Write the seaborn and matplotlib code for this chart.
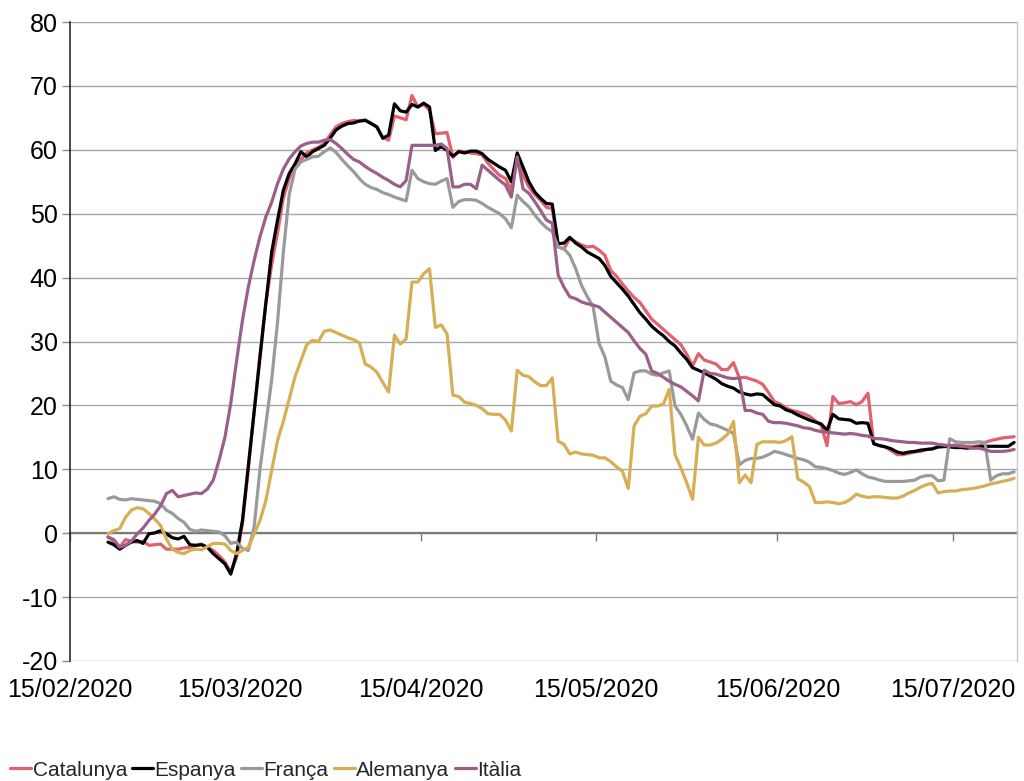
import numpy as np
import pandas as pd
import matplotlib
matplotlib.use("Agg")
import matplotlib.pyplot as plt
import matplotlib.dates as mdates
from matplotlib import font_manager as fm
from matplotlib.lines import Line2D
import seaborn as sns

# ---------------- data (daily, 21/02/2020 .. 25/07/2020) ----------------
start_date = "2020-02-21"
end_date = "2020-07-25"

catalunya = [
    -0.6, -1.25, -2.2, -1.0, -1.25, -1.4, -1.25, -1.9, -1.8, -1.7,
    -2.5, -2.5, -2.5, -2.3, -2.2, -1.9, -1.7, -2.2, -2.7, -3.5,
    -4.5, -6.1, -3.8, 1.5, 10, 19, 28, 36, 42, 47,
    52.5, 55.5, 57.5, 58.5, 59.5, 60, 60.4, 61, 62.3, 63.6,
    64.1, 64.4, 64.6, 64.5, 64.7, 64.2, 63.5, 62, 61.5, 65.3,
    65, 64.7, 68.5, 66.7, 67.1, 66.2, 62.5, 62.6, 62.7, 58.8,
    59.8, 59.7, 59.5, 59.4, 59.2, 57.9, 56.9, 56, 55.5, 53.7,
    58.9, 56, 54.2, 53, 52.1, 51, 50.8, 44.8, 44.5, 46.1,
    45.6, 45.1, 44.8, 44.9, 44.3, 43.5, 41.1, 40.2, 39, 37.9,
    36.9, 36.1, 34.8, 33.5, 32.7, 31.9, 31.1, 30.3, 29.5, 28,
    26.2, 28.1, 27.1, 26.8, 26.5, 25.6, 25.6, 26.7, 24.3, 24.4,
    24.1, 23.8, 23.3, 22, 20.6, 20.2, 19.6, 19.2, 19, 18.7,
    18.3, 17.6, 16.9, 13.7, 21.4, 20.3, 20.4, 20.6, 20.1, 20.6,
    21.9, 14, 13.7, 13.5, 12.9, 12.3, 12.3, 12.5, 12.7, 12.8,
    13.1, 13.2, 13.5, 13.5, 13.7, 13.8, 13.7, 13.6, 13.6, 13.7,
    14.2, 14.5, 14.7, 14.9, 15, 15.1,
]

espanya = [
    -1.4, -1.8, -2.5, -1.9, -1.4, -1.15, -1.6, -0.1, 0.05, 0.4,
    -0.1, -0.7, -0.9, -0.5, -1.8, -1.9, -1.8, -2.2, -3.2, -4.0,
    -4.8, -6.4, -3.2, 2, 10.5, 19, 27.5, 36, 44, 49,
    53.7, 56.3, 57.8, 59.7, 58.9, 59.7, 60.2, 60.7, 61.8, 63.1,
    63.7, 64.1, 64.2, 64.5, 64.6, 64.1, 63.6, 61.8, 62.3, 67.2,
    66.1, 65.9, 67.1, 66.7, 67.3, 66.7, 59.9, 60.5, 59.9, 59,
    59.7, 59.5, 59.8, 59.8, 59.4, 58.5, 57.9, 57.3, 56.8, 55,
    59.5, 57.3, 55, 53.4, 52.4, 51.6, 51.5, 45.3, 45.4, 46.3,
    45.4, 44.8, 44, 43.5, 43, 41.9, 40.2, 39.2, 38.2, 37.1,
    35.8, 34.5, 33.5, 32.4, 31.6, 30.9, 30, 29.3, 28.2, 27.2,
    25.9, 25.5, 25.1, 24.6, 24.1, 23.4, 23, 22.7, 22.1, 21.8,
    21.6, 21.8, 21.7, 20.9, 20.1, 19.9, 19.3, 19, 18.5, 18.1,
    17.7, 17.4, 17.1, 16.1, 18.6, 17.9, 17.8, 17.7, 17.2, 17.3,
    17.2, 14, 13.7, 13.5, 13.2, 12.7, 12.5, 12.7, 12.8, 13,
    13.1, 13.2, 13.5, 13.6, 13.5, 13.4, 13.4, 13.3, 13.4, 13.5,
    13.6, 13.6, 13.6, 13.6, 13.6, 14.2,
]

franca = [
    5.4, 5.7, 5.3, 5.2, 5.4, 5.3, 5.2, 5.1, 5.0, 4.6,
    3.6, 3.1, 2.3, 1.7, 0.6, 0.3, 0.5, 0.4, 0.3, 0.2,
    -0.4, -1.6, -1.4, -2.4, -2.7, 1, 10, 17, 24, 33,
    44, 53, 57, 58.1, 58.5, 58.9, 59, 59.7, 60.3, 59.6,
    58.5, 57.5, 56.6, 55.5, 54.6, 54.1, 53.8, 53.3, 53, 52.6,
    52.3, 52, 56.8, 55.5, 55, 54.7, 54.6, 55.1, 55.5, 51,
    51.9, 52.2, 52.2, 52.1, 51.6, 51, 50.5, 50, 49.2, 47.8,
    52.9, 51.9, 51.1, 49.8, 48.7, 47.8, 47.2, 44.8, 44.5, 43.5,
    41.4, 38.8, 37, 35.4, 29.7, 27.6, 23.8, 23.2, 22.8, 20.9,
    25.1, 25.4, 25.4, 24.9, 24.7, 25.1, 25.4, 19.9, 18.6, 16.8,
    14.7, 18.8, 17.8, 17.1, 16.9, 16.5, 16.1, 15.6, 10.7, 11.4,
    11.7, 11.7, 11.9, 12.3, 12.8, 12.6, 12.3, 12, 11.7, 11.5,
    11.1, 10.4, 10.3, 10.1, 9.8, 9.4, 9.2, 9.5, 9.9, 9.3,
    8.8, 8.6, 8.3, 8.1, 8.1, 8.1, 8.1, 8.2, 8.3, 8.8,
    9.0, 9.0, 8.2, 8.3, 14.8, 14.3, 14.2, 14.2, 14.2, 14.3,
    14.2, 8.3, 9, 9.3, 9.3, 9.6,
]

alemanya = [
    -0.1, 0.4, 0.7, 2.5, 3.6, 4.0, 3.8, 3.1, 2.2, 1.2,
    -0.9, -2.5, -3.0, -3.2, -2.7, -2.5, -2.6, -2.1, -1.6, -1.6,
    -1.7, -2.7, -3.2, -2.7, -2.2, -0.1, 2.0, 5.1, 9.8, 14.5,
    17.5, 21, 24.5, 27, 29.5, 30.2, 30, 31.6, 31.8, 31.4,
    31, 30.6, 30.3, 29.8, 26.5, 26, 25.2, 23.6, 22.1, 31,
    29.6, 30.4, 39.3, 39.3, 40.6, 41.4, 32.2, 32.6, 31.2, 21.6,
    21.4, 20.5, 20.3, 20, 19.5, 18.7, 18.6, 18.6, 17.7, 16,
    25.5, 24.7, 24.5, 23.7, 23.1, 23.1, 24.3, 14.4, 13.9, 12.4,
    12.7, 12.4, 12.3, 12.2, 11.8, 11.8, 11.2, 10.4, 9.7, 7,
    16.8, 18.3, 18.7, 19.9, 19.9, 20.2, 22.5, 12.3, 10.2, 7.9,
    5.3, 15, 13.8, 13.8, 14.1, 14.7, 15.5, 17.5, 7.9, 9.1,
    7.9, 13.9, 14.3, 14.3, 14.3, 14.2, 14.5, 15.1, 8.5, 8,
    7.3, 4.8, 4.8, 4.9, 4.8, 4.6, 4.8, 5.3, 6.1, 5.8,
    5.6, 5.7, 5.7, 5.6, 5.5, 5.5, 5.8, 6.3, 6.7, 7.2,
    7.6, 7.8, 6.3, 6.5, 6.6, 6.6, 6.8, 6.9, 7, 7.2,
    7.4, 7.7, 7.9, 8.1, 8.3, 8.6,
]

italia = [
    -0.6, -1.0, -2.2, -1.9, -1.25, -0.1, 0.8, 2.0, 3.0, 4.3,
    6.2, 6.7, 5.7, 5.9, 6.1, 6.3, 6.2, 6.9, 8.3, 11.4,
    15, 20.3, 27, 33.3, 38.5, 42.7, 46.4, 49.5, 51.8, 54.7,
    57, 58.6, 59.7, 60.6, 61, 61.2, 61.2, 61.5, 61.6, 61,
    60.2, 59.3, 58.5, 58.1, 57.4, 56.8, 56.3, 55.7, 55.2, 54.6,
    54.2, 55.2, 60.7, 60.7, 60.7, 60.7, 60.7, 60.9, 60.2, 54.2,
    54.2, 54.6, 54.6, 53.9, 57.6, 56.8, 56, 55.2, 54.5, 52.6,
    58.9, 53.9, 53.2, 51.9, 50.5, 49, 48.5, 40.4, 38.5, 37,
    36.7, 36.2, 35.9, 35.7, 35.4, 34.6, 33.8, 33, 32.2, 31.4,
    30.1, 28.9, 28, 25.4, 25, 24.4, 23.8, 23.3, 22.9, 22.2,
    21.5, 20.7, 25.5, 25, 24.9, 24.6, 24.3, 24.2, 24.3, 19.2,
    19.2, 18.8, 18.6, 17.5, 17.3, 17.3, 17.2, 17, 16.8, 16.5,
    16.4, 16.1, 15.9, 15.8, 15.7, 15.6, 15.5, 15.6, 15.5, 15.3,
    15.2, 14.8, 14.8, 14.7, 14.5, 14.4, 14.3, 14.2, 14.2, 14.1,
    14.1, 14.1, 13.9, 13.8, 13.7, 13.7, 13.6, 13.5, 13.3, 13.3,
    13.1, 12.8, 12.8, 12.8, 12.9, 13.1,
]

series_names = ["Catalunya", "Espanya", "França", "Alemanya", "Itàlia"]
series_values = [catalunya, espanya, franca, alemanya, italia]
series_colors = ["#E0616F", "#000000", "#9A9A9A", "#D8AE55", "#9C5F89"]

tick_dates = ["2020-02-15", "2020-03-15", "2020-04-15",
              "2020-05-15", "2020-06-15", "2020-07-15"]
tick_labels = ["15/02/2020", "15/03/2020", "15/04/2020",
               "15/05/2020", "15/06/2020", "15/07/2020"]
y_ticks = list(range(-20, 81, 10))

# ---------------- build long table ----------------
dates = pd.date_range(start_date, end_date, freq="D") + pd.Timedelta(hours=12)
frames = []
for name, vals in zip(series_names, series_values):
    frames.append(pd.DataFrame({"date": dates, "value": vals, "country": name}))
df = pd.concat(frames, ignore_index=True)

# ---------------- style ----------------
sns.set_theme(style="white")
plt.rcParams["font.family"] = ["Liberation Sans", "DejaVu Sans"]
plt.rcParams["axes.unicode_minus"] = False


def has_font(name):
    try:
        fm.findfont(fm.FontProperties(family=name), fallback_to_default=False)
        return True
    except Exception:
        return False


if has_font("Liberation Sans Narrow"):
    legend_font = fm.FontProperties(family="Liberation Sans Narrow", size=18)
else:
    legend_font = fm.FontProperties(family="Liberation Sans", size=15)

W, H = 1024, 781
fig = plt.figure(figsize=(W / 100, H / 100), dpi=100)
ax_left, ax_right, ax_top, ax_bottom = 70, 1017, 22, 661
ax = fig.add_axes([ax_left / W, 1 - ax_bottom / H,
                   (ax_right - ax_left) / W, (ax_bottom - ax_top) / H])

palette = dict(zip(series_names, series_colors))
sns.lineplot(data=df, x="date", y="value", hue="country",
             hue_order=series_names, palette=palette, linewidth=2.3,
             estimator=None, ax=ax, legend=False,
             solid_joinstyle="round", solid_capstyle="round")

ax.set_xlim(pd.Timestamp("2020-02-15"), pd.Timestamp("2020-07-26"))
ax.set_ylim(-20, 80)
ax.set_xlabel("")
ax.set_ylabel("")

# y axis
ax.set_yticks(y_ticks)
ax.set_yticklabels([str(v) for v in y_ticks], fontsize=18, color="black")
ax.yaxis.grid(True, color="#A8A8A8", linewidth=1.0)
ax.xaxis.grid(False)
ax.set_axisbelow(True)
ax.tick_params(axis="y", direction="out", length=5.8, width=1.0,
               color="#8C8C8C", pad=3, left=True)

# spines
ax.spines["left"].set_color("#1A1A1A")
ax.spines["left"].set_linewidth(1.1)
ax.spines["right"].set_color("#C8C8C8")
ax.spines["right"].set_linewidth(1.0)
ax.spines["top"].set_visible(False)
ax.spines["bottom"].set_position(("data", 0))
ax.spines["bottom"].set_color("#7A7A7A")
ax.spines["bottom"].set_linewidth(1.6)
ax.spines["bottom"].set_zorder(1.5)

# x ticks on the zero line (no labels there)
tick_nums = [mdates.date2num(pd.Timestamp(t)) for t in tick_dates]
ax.set_xticks(tick_nums)
ax.tick_params(axis="x", direction="out", length=5.5, width=1.0,
               color="#7A7A7A", labelbottom=False, bottom=True)

# x labels at the bottom of the plot
sec = ax.secondary_xaxis(0)
sec.set_xticks(tick_nums)
sec.set_xticklabels(tick_labels, fontsize=18, color="black")
sec.tick_params(axis="x", length=0, pad=12.5)
sec.spines["bottom"].set_visible(False)

# legend
handles = [Line2D([0], [0], color=c, lw=2.3) for c in series_colors]
fig.legend(handles, series_names, loc="center left",
           bbox_to_anchor=(10 / W, 1 - 770 / H), ncol=5, frameon=False,
           borderpad=0, borderaxespad=0, handlelength=1.0,
           handletextpad=0.08, columnspacing=0.25, prop=legend_font)

fig.savefig("out.png", dpi=100)
